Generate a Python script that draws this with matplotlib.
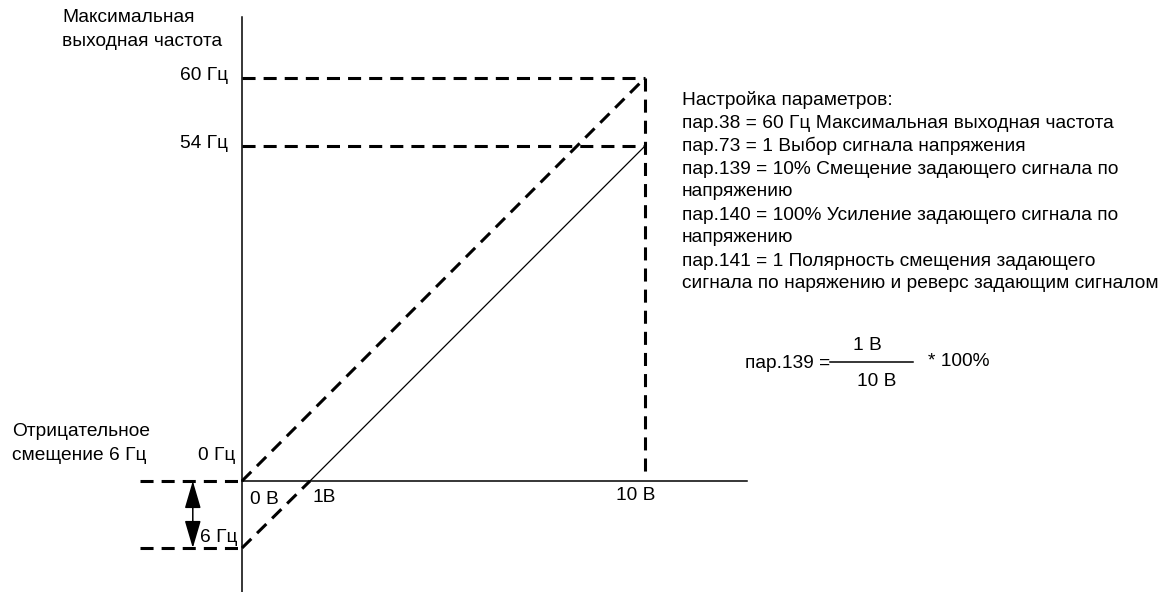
import numpy as np
import matplotlib
matplotlib.use('Agg')
import matplotlib.pyplot as plt

plt.rcParams['font.family'] = ['Liberation Sans', 'DejaVu Sans']
plt.rcParams['lines.scale_dashes'] = False

# значения схемы (В и Гц)
volts = [0, 1, 10]
max_freq = 60
gain_freq = 54
bias_freq = -6
volt_labels = ['0 В', '1В', '10 В']

text_lines = [
    'Настройка параметров:',
    'пар.38 = 60 Гц Максимальная выходная частота',
    'пар.73 = 1 Выбор сигнала напряжения',
    'пар.139 = 10% Смещение задающего сигнала по',
    'напряжению',
    'пар.140 = 100% Усиление задающего сигнала по',
    'напряжению',
    'пар.141 = 1 Полярность смещения задающего',
    'сигнала по наряжению и реверс задающим сигналом',
]

W, H = 1169, 592

# схема нарисована не в масштабе - кусочно-линейные шкалы
volt_knots = [-6.0, 0.0, 1.0, 10.0, 23.0]
volt_px = [-242, 0, 68, 403, 927]
hz_knots = [-9.94, -6.0, 0.0, 54.0, 60.0, 66.9]
hz_px = [-111, -67, 0, 335, 403, 481]


def fx(v):
    return np.interp(v, volt_knots, volt_px)


def fx_inv(p):
    return np.interp(p, volt_px, volt_knots)


def fy(v):
    return np.interp(v, hz_knots, hz_px)


def fy_inv(p):
    return np.interp(p, hz_px, hz_knots)


fig = plt.figure(figsize=(W / 100, H / 100), dpi=100)
ax = fig.add_axes([0, 0, 1, 1])
ax.set_xscale('function', functions=(fx, fx_inv))
ax.set_yscale('function', functions=(fy, fy_inv))
ax.set_xlim(volt_knots[0], volt_knots[-1])
ax.set_ylim(hz_knots[0], hz_knots[-1])
ax.set_axis_off()

dash = dict(color='black', lw=2.2, dashes=(9.4, 5.8), solid_capstyle='butt', dash_capstyle='butt')

# оси
ax.plot([0, 0], [hz_knots[0], 65.4], color='black', lw=1.1)
ax.plot([0, 12.53], [0, 0], color='black', lw=1.1)

# пунктирные уровни
ax.plot([0, volts[2]], [max_freq, max_freq], **dash)
ax.plot([0, volts[2]], [gain_freq, gain_freq], **dash)
ax.plot([volts[2], volts[2]], [max_freq, 0.3], **dash)
ax.plot([-2.53, 0], [0, 0], **dash)
ax.plot([-2.53, 0], [bias_freq, bias_freq], **dash)

# характеристики
ax.plot([volts[0], volts[2]], [0, max_freq], **dash)
ax.plot([volts[0], volts[1]], [bias_freq, 0], **dash)
ax.plot([volts[1], volts[2]], [0, gain_freq], color='black', lw=0.9)

# стрелка смещения
ax.annotate('', xy=(-1.22, 0), xytext=(-1.22, bias_freq),
            arrowprops=dict(arrowstyle='<|-|>,head_length=1.7,head_width=0.5',
                            mutation_scale=10, color='black', lw=1.1,
                            shrinkA=0, shrinkB=0))

fs = 13.8
lab = dict(textcoords='offset pixels', fontsize=fs, va='center')
ax.annotate('60 Гц', xy=(0, max_freq), xytext=(-14, 2), ha='right', **lab)
ax.annotate('54 Гц', xy=(0, gain_freq), xytext=(-14, 2), ha='right', **lab)
ax.annotate('0 Гц', xy=(0, 0), xytext=(-7, 25), ha='right', **lab)
ax.annotate('6 Гц', xy=(0, bias_freq), xytext=(-4, 11), ha='right', **lab)
ax.annotate(volt_labels[0], xy=(volts[0], 0), xytext=(8, -19), ha='left', **lab)
ax.annotate(volt_labels[1], xy=(volts[1], 0), xytext=(3, -16), ha='left', **lab)
ax.annotate(volt_labels[2], xy=(volts[2], 0), xytext=(-9, -14), ha='center', **lab)


def ftext(x, y, s, **kw):
    fig.text(x / W, 1 - y / H, s, fontsize=fs, va='center', **kw)


ftext(62, 18, 'Максимальная')
ftext(62, 41, 'выходная частота')
ftext(12, 432, 'Отрицательное')
ftext(12, 455, 'смещение 6 Гц')

for i, line in enumerate(text_lines):
    ftext(682, 100 + 23 * i, line)

# формула
ftext(745, 363, 'пар.139 =')
ftext(867, 345, '1 В', ha='center')
ftext(877, 381, '10 В', ha='center')
ftext(928, 362, '* 100%')
fig.add_artist(plt.Line2D([830 / W, 913 / W], [1 - 362 / H, 1 - 362 / H],
                          color='black', lw=1.1))

plt.savefig('out.png', dpi=100)
